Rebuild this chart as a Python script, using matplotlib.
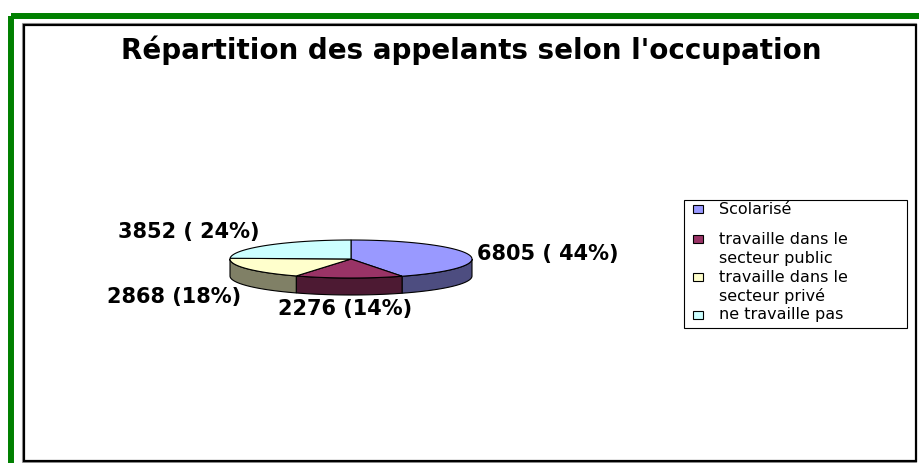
import numpy as np
import matplotlib.pyplot as plt
from matplotlib.patches import Rectangle, Polygon

# donnees
categories = ["Scolarisé", "travaille dans le\nsecteur public",
              "travaille dans le\nsecteur privé", "ne travaille pas"]
valeurs = np.array([6805, 2276, 2868, 3852])
etiquettes = ["6805 ( 44%)", "2276 (14%)", "2868 (18%)", "3852 ( 24%)"]
titre = "Répartition des appelants selon l'occupation"

couleurs = ["#9999FF", "#993366", "#FFFFCC", "#CCFFFF"]
cotes = ["#4D4D80", "#4D1A33", "#808066", "#668080"]

# geometrie du camembert (en pixels)
cx, cy, a, b, h = 351, 259, 121, 19, 17

fig = plt.figure(figsize=(9.2, 4.63), dpi=100)
ax = fig.add_axes([0, 0, 1, 1])
ax.set_xlim(0, 920)
ax.set_ylim(463, 0)
ax.axis('off')

# cadres
ax.add_patch(Rectangle((11, 16), 1000, 1000, fill=False, ec="#008000", lw=4.3, clip_on=False))
ax.add_patch(Rectangle((22, 23), 894, 439, fill=False, ec="#999999", lw=0.8))
ax.add_patch(Rectangle((24, 25), 892, 436, fill=False, ec="black", lw=1.6))

def pt(t, dy=0):
    t = np.radians(t)
    return cx + a * np.sin(t), cy - b * np.cos(t) + dy

frac = valeurs / valeurs.sum()
bornes = np.concatenate([[0], np.cumsum(frac) * 360])

# faces laterales (devant seulement)
for i in range(len(valeurs)):
    s, e = max(bornes[i], 90), min(bornes[i + 1], 270)
    if s < e:
        t = np.linspace(s, e, 60)
        haut = [pt(x) for x in t]
        bas = [pt(x, h) for x in t[::-1]]
        ax.add_patch(Polygon(haut + bas, closed=True, fc=cotes[i], ec="black", lw=0.8))

# faces du dessus
for i in range(len(valeurs)):
    t = np.linspace(bornes[i], bornes[i + 1], 80)
    pts = [(cx, cy)] + [pt(x) for x in t]
    ax.add_patch(Polygon(pts, closed=True, fc=couleurs[i], ec="black", lw=0.8))

# etiquettes
pos_etiq = [(477, 254, 'left'), (345, 309, 'center'), (174, 297, 'center'), (189, 232, 'center')]
for (x, y, ha), txt in zip(pos_etiq, etiquettes):
    ax.text(x, y, txt, ha=ha, va='center', fontsize=15, fontweight='bold', family='DejaVu Sans')

ax.text(471, 50, titre, ha='center', va='center', fontsize=20, fontweight='bold', family='DejaVu Sans')

# legende
ax.add_patch(Rectangle((684, 200), 223, 128, fill=False, ec="black", lw=0.8))
y_leg = [209, 239, 277, 315]
for nom, c, y in zip(categories, couleurs, y_leg):
    ax.add_patch(Rectangle((693, y - 4), 10, 8, fc=c, ec="black", lw=0.8))
    for k, ligne in enumerate(nom.split("\n")):
        ax.text(719, y + k * 19, ligne, ha='left', va='center', fontsize=11.5, family='DejaVu Sans')

fig.savefig("out.png", dpi=100)
